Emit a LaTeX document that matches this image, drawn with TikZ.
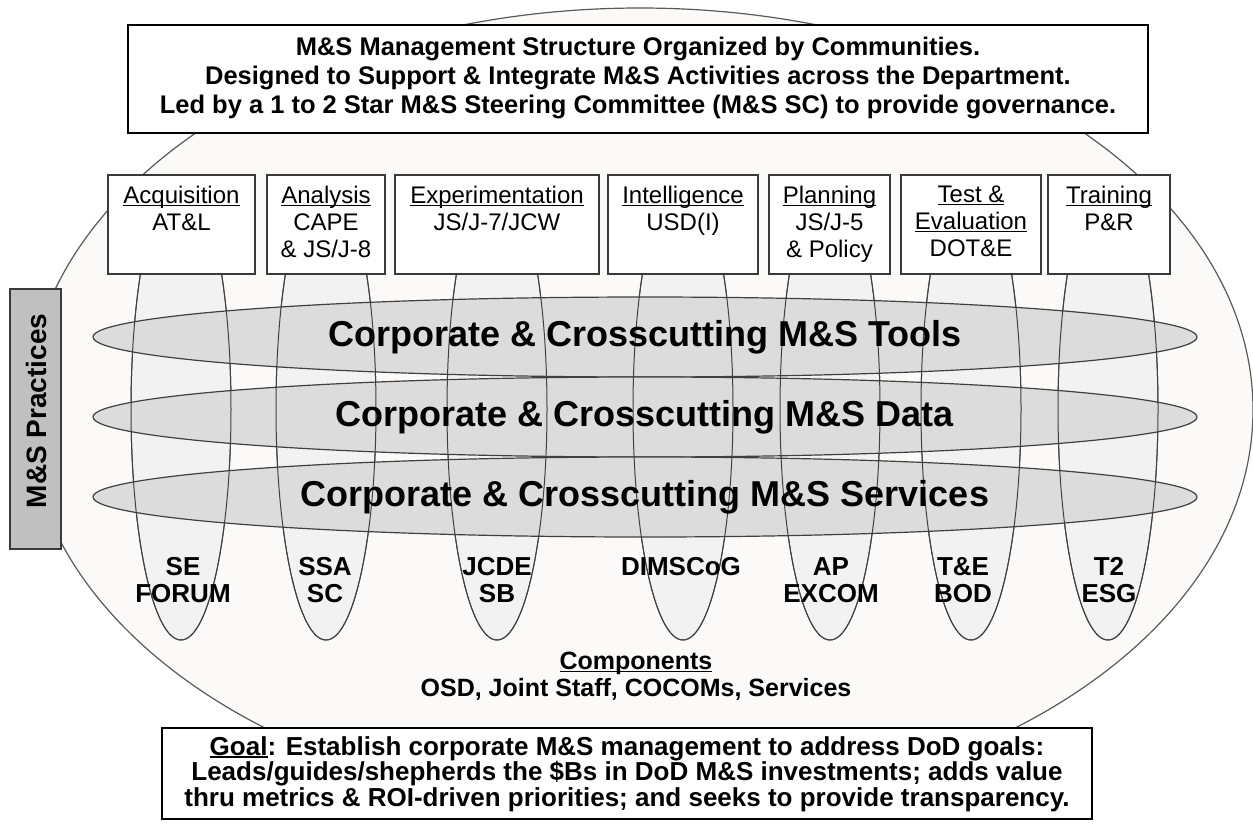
\documentclass[tikz,border=0pt]{standalone}
\usepackage{fontspec}
\setmainfont{Liberation Sans}
\usetikzlibrary{shapes.geometric,positioning}

\definecolor{shellfill}{HTML}{FBFAF8}
\definecolor{shelledge}{HTML}{5A5A5A}
\definecolor{bandfill}{HTML}{DCDCDC}
\definecolor{podfill}{HTML}{F2F2F2}
\definecolor{practfill}{HTML}{C0C0C0}
\definecolor{edge}{HTML}{404040}
\definecolor{boxedge}{HTML}{3A3A3A}

\newcommand{\fs}[2]{\fontsize{#1}{#2}\selectfont}
% underline that sits just under the baseline
\newcommand{\ulbar}[1]{\setbox0=\hbox{#1}\rlap{\rule[-2.6pt]{\wd0}{1.3pt}}\box0}

\begin{document}
\begin{tikzpicture}[x=1pt,y=-1pt]
  \tikzstyle{shell}=[ellipse,draw=shelledge,line width=1.2pt,fill=shellfill,minimum width=1226pt,minimum height=804pt,inner sep=0pt]
  \tikzstyle{pod}=[ellipse,draw=edge,line width=1pt,fill=podfill,minimum width=100pt,minimum height=462pt,inner sep=0pt]
  \tikzstyle{podline}=[ellipse,draw=edge,line width=1pt,minimum width=100pt,minimum height=462pt,inner sep=0pt]
  \tikzstyle{band}=[ellipse,draw=edge,line width=1.2pt,fill=bandfill,minimum width=1104pt,minimum height=80pt,inner sep=0pt]
  \tikzstyle{bandtext}=[font=\fs{36}{40}\bfseries]
  \tikzstyle{community}=[draw=boxedge,line width=1.5pt,fill=white,minimum height=99pt,anchor=north,inner sep=0pt]
  \tikzstyle{commtext}=[font=\fs{24}{27},align=center,inner sep=0pt]
  \tikzstyle{forum}=[font=\fs{26}{27}\bfseries,align=center,inner sep=0pt]
  \tikzstyle{frame}=[draw,line width=2pt,fill=white,inner sep=0pt]

  \useasboundingbox (0,0) rectangle (1253,823);
  \fill[white] (0,0) rectangle (1253,823);

  % outer community shell
  \node[shell] (shell) at (640,410) {};

  % one pod per community
  \node[pod] (acqpod) at (181,409) {};
  \node[pod] (anapod) at (326,409) {};
  \node[pod] (exppod) at (497,409) {};
  \node[pod] (intpod) at (683,409) {};
  \node[pod] (plapod) at (830,409) {};
  \node[pod] (tevpod) at (971,409) {};
  \node[pod] (trapod) at (1108,409) {};

  % crosscutting bands
  \node[band] (tools) at (645,337) {};
  \node[band] (data) at (645,417) {};
  \node[band] (services) at (645,497) {};

  % pod outlines again, over the bands
  \node[podline] at (acqpod) {};
  \node[podline] at (anapod) {};
  \node[podline] at (exppod) {};
  \node[podline] at (intpod) {};
  \node[podline] at (plapod) {};
  \node[podline] at (tevpod) {};
  \node[podline] at (trapod) {};

  \node[bandtext] (toolstext) at (tools.center) {Corporate \& Crosscutting M\&S Tools};
  \node[bandtext] (datatext) at (data.center) {Corporate \& Crosscutting M\&S Data};
  \node[bandtext] (servicestext) at (services.center) {Corporate \& Crosscutting M\&S Services};

  % community boxes
  \node[community,minimum width=147pt] (acq) at (181.5,174) {};
  \node[community,minimum width=118pt] (ana) at (326,174) {};
  \node[community,minimum width=204pt] (exp) at (497,174) {};
  \node[community,minimum width=150pt] (int) at (683,174) {};
  \node[community,minimum width=121pt] (pla) at (829.5,174) {};
  \node[community,minimum width=140pt] (tev) at (971,174) {};
  \node[community,minimum width=122pt] (tra) at (1109,174) {};

  \node[commtext,below=12pt of acq.north] (acqtext) {\ulbar{Acquisition}\\AT\&L};
  \node[commtext,below=12pt of ana.north] (anatext) {\ulbar{Analysis}\\CAPE\\\& JS/J-8};
  \node[commtext,below=12pt of exp.north] (exptext) {\ulbar{Experimentation}\\JS/J-7/JCW};
  \node[commtext,below=12pt of int.north] (inttext) {\ulbar{Intelligence}\\USD(I)};
  \node[commtext,below=12pt of pla.north] (platext) {\ulbar{Planning}\\JS/J-5\\\& Policy};
  \node[commtext,below=12pt of tev.north] (tevtext) {\ulbar{Test \&}\\\ulbar{Evaluation}\\DOT\&E};
  \node[commtext,below=12pt of tra.north] (tratext) {\ulbar{Training}\\P\&R};

  % forums at the foot of each pod
  \node[forum] (seforum) at (183,580) {SE\\FORUM};
  \node[forum] (ssasc) at (325,580) {SSA\\SC};
  \node[forum] (jcdesb) at (497,580) {JCDE\\SB};
  \node[forum] (dimscog) at (681,567) {DIMSCoG};
  \node[forum] (apexcom) at (831,580) {AP\\EXCOM};
  \node[forum] (tebod) at (963,580) {T\&E\\BOD};
  \node[forum] (tesg) at (1109,580) {T2\\ESG};

  \node[font=\fs{25}{27}\bfseries,align=center] (comps) at (636,676) {\ulbar{Components}\\OSD, Joint Staff, COCOMs, Services};

  % header and goal
  \node[frame,minimum width=1020pt,minimum height=108pt] (title) at (638,79) {};
  \node[font=\fs{25.5}{29}\bfseries,align=center,inner sep=0pt,below=13pt of title.north] (titletext) {M\&S Management Structure Organized by Communities.\\Designed to Support \& Integrate M\&S Activities across the Department.\\Led by a 1 to 2 Star M\&S Steering Committee (M\&S SC) to provide governance.};

  \node[frame,minimum width=930pt,minimum height=91pt,anchor=north] (goal) at (627,727) {};
  \node[font=\fs{26}{24}\bfseries,align=center,inner sep=0pt,below=9pt of goal.north] (goaltext) {\ulbar{Goal}: Establish corporate M\&S management to address DoD goals:\\Leads/guides/shepherds the \$Bs in DoD M\&S investments; adds value\\thru metrics \& ROI-driven priorities; and seeks to provide transparency.};

  % practices tab
  \node[draw=boxedge,line width=1.2pt,fill=practfill,minimum width=51pt,minimum height=260pt,inner sep=0pt] (pract) at (35.5,419) {};
  \node[rotate=90,font=\fs{28}{30}\bfseries] (practtext) at (36,411) {M\&S Practices};
\end{tikzpicture}
\end{document}
